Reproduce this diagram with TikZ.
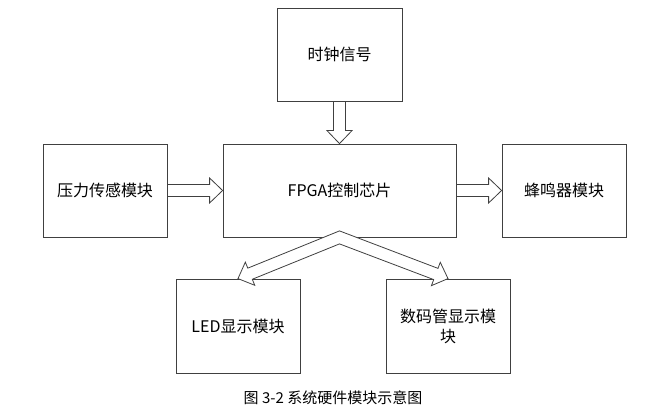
\documentclass[tikz,border=0pt]{standalone}
\usepackage{fontspec}
\setmainfont{Noto Sans CJK SC}
\usetikzlibrary{calc}

% hollow block arrow from #1 to #2
\newcommand{\fatarrow}[2]{%
 \coordinate (fa-h) at ($(#2)!13pt!(#1)$);
 \draw[fat] ($(#1)!6pt!-90:(#2)$) -- ($(fa-h)!6pt!90:(#1)$) -- ($(fa-h)!12.5pt!90:(#1)$) -- (#2)
  -- ($(fa-h)!12.5pt!-90:(#1)$) -- ($(fa-h)!6pt!-90:(#1)$) -- ($(#1)!6pt!90:(#2)$);}

\begin{document}
\begin{tikzpicture}[x=1pt, y=-1pt,
 block/.style={draw=black!75, line width=0.8pt, align=center, minimum width=124pt, minimum height=93pt, inner sep=2pt, font=\fontsize{16}{20}\selectfont},
 fat/.style={draw=black!75, line width=0.8pt, line join=miter}]
\useasboundingbox (0,0) rectangle (665,411);
\node[block, minimum width=125pt] (clk) at (339.5,54.5) {时钟信号};
\node[block, minimum width=233pt] (fpga) at (339.5,190.5) {FPGA控制芯片};
\node[block] (press) at (105,190.5) {压力传感模块};
\node[block] (buzz) at (564,190.5) {蜂鸣器模块};
\node[block, minimum height=94pt] (led) at (238,326) {LED显示模块};
\node[block, minimum height=94pt] (tube) at (448,326) {数码管显示模\\块};
\node[font=\fontsize{15}{18}\selectfont] (cap) at (333,398) {图 3-2 系统硬件模块示意图};
\fatarrow{clk.south}{fpga.north}
\fatarrow{press.east}{fpga.west}
\fatarrow{fpga.east}{buzz.west}
% forked arrow to the two display modules
\coordinate (fk) at (fpga.south);
\coordinate (pk) at ($(fk)+(0,-6.5)$);
\coordinate (ix) at ($(fk)+(0,6.5)$);
\coordinate (lh) at ($(led.north)!13pt!(fk)$);
\coordinate (rh) at ($(tube.north)!13pt!(fk)$);
\draw[fat, fill=white] (pk) -- ($(lh)!6pt!90:(fk)$) -- ($(lh)!12.5pt!90:(fk)$) -- (led.north)
  -- ($(lh)!12.5pt!-90:(fk)$) -- ($(lh)!6pt!-90:(fk)$) -- (ix)
  -- ($(rh)!6pt!90:(fk)$) -- ($(rh)!12.5pt!90:(fk)$) -- (tube.north)
  -- ($(rh)!12.5pt!-90:(fk)$) -- ($(rh)!6pt!-90:(fk)$) -- cycle;
\end{tikzpicture}
\end{document}
